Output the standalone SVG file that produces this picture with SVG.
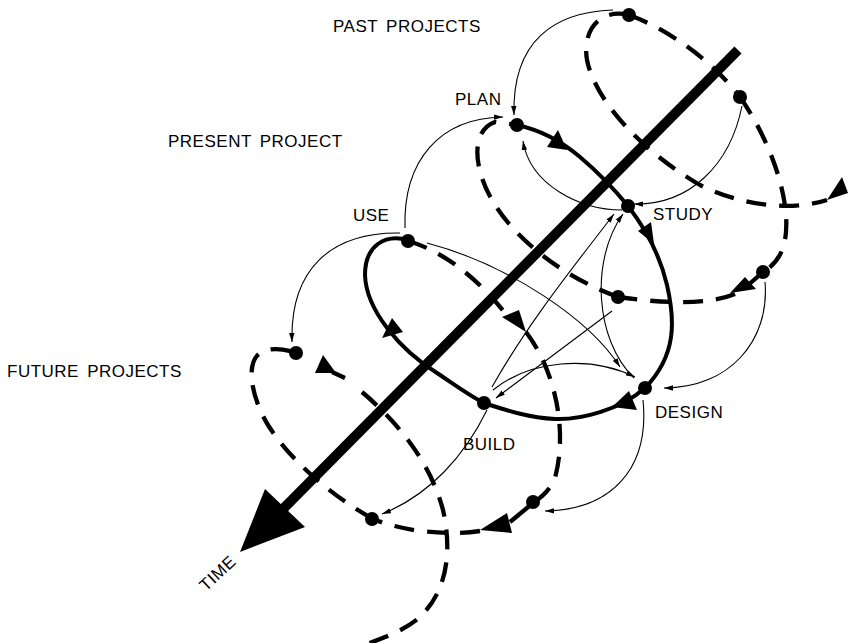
<svg xmlns="http://www.w3.org/2000/svg" width="849" height="643" viewBox="0 0 849 643">
<style>
.lbl{font-family:"Liberation Sans",Arial,sans-serif;font-size:17px;letter-spacing:0.5px;word-spacing:3px;fill:#000}
.thick{fill:none;stroke:#000;stroke-width:4}
.stub{fill:none;stroke:#000;stroke-width:4.3}
.dash{fill:none;stroke:#000;stroke-width:4.3;stroke-dasharray:20 13}
.thin{fill:none;stroke:#000;stroke-width:1.1;marker-end:url(#ah)}
.head{fill:#000}
.node{fill:#000}
</style>
<defs>
<marker id="ah" viewBox="0 0 10 6" refX="10" refY="3" markerWidth="9" markerHeight="6" orient="auto" markerUnits="userSpaceOnUse"><path d="M0,0 L10,3 L0,6 z" fill="#000"/></marker>
</defs>
<rect width="849" height="643" fill="#fff"/>

<g id="time-axis">
<line x1="738" y1="50" x2="281" y2="511" stroke="#000" stroke-width="10"/>
<polygon class="head" points="240,552 265,489 305,527"/>
<text class="lbl" transform="translate(206,592) rotate(-43)">TIME</text>
</g>

<g id="connectors">
<!-- present project loop (thick solid) -->
<path class="thick" d="M517,125 C540,130 560,140 580,157 C600,174 615,190 628,206"/>
<polygon class="head" points="547,147 558,130 567,150"/>
<path class="thick" d="M628,206 C645,228 660,255 667,285 C675,320 677,355 645,388"/>
<polygon class="head" points="638,231 651,222 654,244"/>
<path class="thick" d="M645,388 C620,410 580,420 555,419 C530,418 505,410 484,403"/>
<polygon class="head" points="612,407 629,391 637,410"/>
<path class="thick" d="M484,403 C470,396 455,385 437,373 C400,350 366,310 365,275 C365,245 385,234 408,240"/>
<polygon class="head" points="382,338 392,318 403,332"/>

<!-- past projects (dashed) -->
<path class="dash" d="M629,15 C665,28 710,58 740,97"/>
<path class="dash" d="M740,97 C770,140 792,200 785,240 C782,255 775,265 763,272"/>
<path class="stub" d="M763,272 L747,286"/>
<polygon class="head" points="730,293 745,277 756,289"/>
<path class="dash" d="M735,294 C715,302 680,306 618,297"/>
<path class="dash" d="M618,297 C565,278 515,240 492,200 C472,165 472,130 495,122 L517,125"/>
<path class="dash" d="M629,15 C600,8 582,30 587,60 C595,100 640,150 700,185 C740,205 790,212 827,200"/>
<polygon class="head" points="827,200 842,177 848,193"/>

<!-- future projects (dashed) -->
<path class="dash" d="M408,241 C440,250 475,275 505,313"/>
<polygon class="head" points="502,317 519,310 526,332"/>
<path class="dash" d="M526,332 C555,370 568,430 555,478 C550,490 542,497 533,503"/>
<path class="stub" d="M533,503 L510,522"/>
<polygon class="head" points="480,530 507,513 512,533"/>
<path class="dash" d="M480,531 C460,534 440,533 420,531 C400,528 385,524 373,519"/>
<path class="dash" d="M373,519 C330,495 290,460 268,425 C250,395 245,360 262,352 C272,347 285,349 297,353"/>
<polygon class="head" points="315,373 323,355 336,373"/>
<path class="stub" d="M332,372 L345,378"/>
<path class="dash" d="M362,392 C395,420 430,460 443,510 C452,550 448,590 420,617 C405,630 385,638 355,648"/>

<!-- thin feedback arrows -->
<path class="thin" d="M405,228 C403,160 440,118 503,117"/>
<path class="thin" d="M613,10 C555,12 512,40 514,115"/>
<path class="thin" d="M622,210 C580,210 530,185 523,141"/>
<path class="thin" d="M742,106 C730,165 690,205 634,204"/>
<path class="thin" d="M765,282 C770,340 730,388 664,388"/>
<path class="thin" d="M643,400 C650,470 610,510 545,511"/>
<path class="thin" d="M487,410 C465,455 430,495 382,514"/>
<path class="thin" d="M400,233 C330,232 290,270 292,342"/>
<path class="thin" d="M427,243 C510,265 590,320 620,367"/>
<path class="thin" d="M493,390 C530,360 590,355 635,377"/>
<path class="thin" d="M492,387 C530,320 575,265 614,214"/>
<path class="thin" d="M634,378 C595,340 590,260 623,214"/>
<path class="thin" d="M612,311 L496,398"/>
</g>

<g id="node-plan"><circle class="node" cx="517" cy="125" r="7"/><text class="lbl" x="455" y="105">PLAN</text></g>
<g id="node-study"><circle class="node" cx="628" cy="206" r="7"/><text class="lbl" x="653" y="220">STUDY</text></g>
<g id="node-design"><circle class="node" cx="645" cy="388" r="7"/><text class="lbl" x="655" y="418">DESIGN</text></g>
<g id="node-build"><circle class="node" cx="484" cy="403" r="7"/><text class="lbl" x="463" y="450">BUILD</text></g>
<g id="node-use"><circle class="node" cx="408" cy="241" r="7"/><text class="lbl" x="353" y="221">USE</text></g>

<g id="past-nodes">
<circle class="node" cx="629" cy="15" r="7"/>
<circle class="node" cx="740" cy="97" r="7"/>
<circle class="node" cx="763" cy="272" r="7"/>
<circle class="node" cx="618" cy="297" r="7"/>
</g>
<g id="future-nodes">
<circle class="node" cx="296" cy="353" r="7"/>
<circle class="node" cx="372" cy="519" r="7"/>
<circle class="node" cx="533" cy="502" r="7"/>
</g>

<g id="titles">
<text class="lbl" x="333" y="32">PAST PROJECTS</text>
<text class="lbl" x="168" y="147">PRESENT PROJECT</text>
<text class="lbl" x="7" y="377">FUTURE PROJECTS</text>
</g>
</svg>
